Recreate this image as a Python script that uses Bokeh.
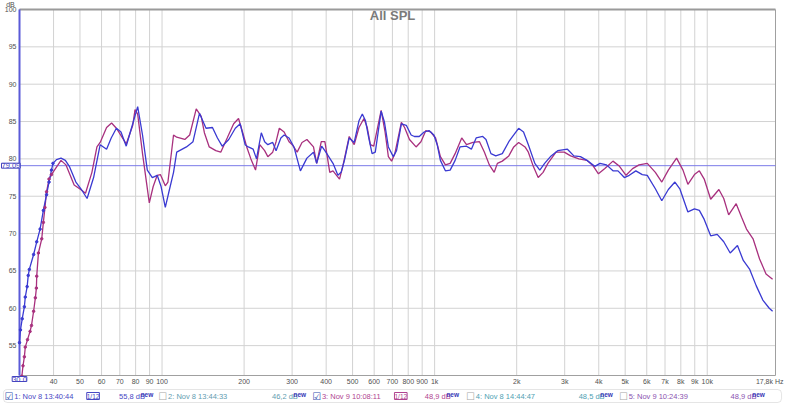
import math
from bokeh.plotting import figure
from bokeh.models import Range1d, Label, BoxAnnotation
from bokeh.layouts import column
from bokeh.embed import file_html
from bokeh.resources import INLINE
from bokeh.core.properties import value

# ---------------- data ----------------
blue_freq = [30.0, 30.25, 30.7, 31.26, 31.5, 32.0, 32.3, 32.6, 33.8, 34.7,
             35.7, 36.7, 37.7, 38.5, 39.3, 39.8, 41.0, 42.6, 44.2, 45.7,
             48.3, 50.4, 53.1, 56.1, 59.3, 62.6, 65.1, 68.0, 70.7, 73.9,
             76.8, 81.4, 84.8, 88.3, 92.1, 96.0, 99.2, 102.8, 106, 110.2,
             113.2, 122.9, 129.9, 137.2, 145, 153.1, 159.7, 166.2, 175.7, 185.7,
             193.6, 201.7, 207.2, 215.9, 222.1, 231.3, 237.9, 244.4, 254.7, 262,
             272.8, 280.5, 292.4, 304.7, 321.8, 340, 359.4, 369.2, 385, 395.7,
             423.8, 441.7, 453.8, 466.8, 486, 506.9, 527.8, 542.9, 557.8, 573.2,
             589.6, 605.7, 636.6, 654.7, 676.5, 705.1, 724.8, 755.1, 787.1, 820,
             842.6, 878, 915, 953.6, 993.8, 1022, 1050, 1095, 1140, 1189,
             1239, 1309, 1364, 1420, 1501, 1543, 1609, 1676, 1771, 1871,
             1951, 2033, 2119, 2207, 2331, 2431, 2532, 2675, 2827, 3070,
             3242, 3426, 3622, 3869, 4041, 4271, 4510, 4704, 4966, 5176,
             5471, 5777, 6026, 6452, 6813, 7200, 7611, 7933, 8492, 8976,
             9356, 9748, 10294, 10877, 11497, 12140, 12909, 13560, 14318, 15131,
             15993, 16887, 17368]
blue_db = [55.4, 57.1, 58.6, 60.2, 61.5, 62.9, 64.4, 65.2, 67.2, 68.9,
           70.6, 73.1, 75.2, 76.9, 78.5, 79.4, 79.9, 80.1, 79.8, 79.0,
           76.9, 76.0, 74.7, 77.5, 81.9, 81.3, 82.8, 84.1, 83.6, 81.7,
           83.8, 87.0, 83.2, 78.5, 77.5, 77.8, 76.3, 73.5, 75.6, 78.2,
           80.9, 81.6, 82.3, 86.1, 84.1, 84.2, 82.8, 81.7, 82.6, 84.1,
           84.7, 81.9, 81.6, 81.3, 80.0, 83.5, 82.3, 81.9, 82.2, 81.1,
           82.8, 83.2, 82.8, 81.6, 78.4, 80.1, 80.9, 79.4, 81.7, 81.1,
           79.4, 77.8, 78.2, 79.8, 82.8, 82.2, 85.1, 86.0, 85.1, 82.8,
           80.7, 80.9, 86.4, 84.9, 81.6, 80.3, 81.1, 84.7, 84.5, 83.2,
           83.0, 83.0, 83.6, 83.8, 83.2, 81.9, 79.8, 78.4, 78.5, 79.8,
           81.6, 81.7, 81.3, 82.8, 83.0, 82.6, 80.7, 80.4, 80.7, 82.3,
           83.2, 84.1, 83.6, 81.9, 79.4, 78.5, 79.4, 80.4, 81.1, 81.3,
           80.4, 80.3, 79.8, 79.0, 79.4, 79.2, 78.4, 78.4, 77.5, 77.8,
           78.4, 77.9, 77.8, 76.0, 74.4, 75.9, 76.9, 76.0, 72.9, 73.3,
           73.1, 71.9, 69.7, 69.9, 68.9, 67.4, 68.4, 66.4, 65.2, 63.0,
           61.1, 60.0, 59.6]

red_freq = [30.6, 30.9, 31.26, 31.5, 32.1, 32.8, 33.2, 33.8, 34.3, 34.6,
            34.7, 35.2, 36.2, 36.7, 37.2, 37.7, 38.5, 39.3, 40.3, 42.6,
            44.4, 47.6, 50.3, 52.4, 55.3, 57.7, 59.3, 62.6, 65.3, 68.0,
            73.9, 78.1, 79.6, 81.4, 84.8, 89.8, 92.8, 96.0, 98.6, 102.8,
            105.1, 110.2, 113.2, 121.2, 126.3, 133.5, 139.2, 143, 149, 157.5,
            164.2, 173.4, 183.1, 190.8, 198.8, 204.5, 211.8, 220.3, 228.3, 237.9,
            244.4, 254.7, 262, 269.3, 280.5, 292.4, 300.4, 313.1, 326.2, 340,
            359.4, 369.2, 383.8, 395.7, 412.4, 423.8, 447.8, 460.3, 486, 506.9,
            527.8, 550.5, 565.9, 581.2, 597.9, 636.6, 657.9, 676.5, 695.3, 714.4,
            755.1, 775.9, 808.5, 854.8, 890.6, 928.4, 967.3, 1008, 1050, 1095,
            1140, 1189, 1257, 1309, 1382, 1461, 1523, 1587, 1654, 1699,
            1771, 1871, 1951, 2033, 2146, 2207, 2301, 2398, 2499, 2603,
            2787, 2987, 3155, 3381, 3622, 3824, 3989, 4211, 4510, 4766,
            5037, 5323, 5621, 6026, 6452, 6813, 7200, 7718, 8148, 8492,
            8976, 9356, 9748, 10294, 11035, 11497, 11984, 12770, 13368, 13932,
            14726, 15560, 16432, 17368]
red_db = [50.9, 52.3, 53.5, 54.8, 55.8, 56.9, 57.7, 59.6, 61.4, 62.7,
          64.3, 67.4, 69.3, 71.5, 73.5, 75.6, 77.3, 77.9, 78.5, 79.8,
          79.2, 76.5, 75.9, 75.4, 78.2, 81.6, 82.2, 84.2, 84.8, 84.1,
          82.0, 84.5, 86.6, 86.0, 80.7, 74.1, 76.3, 77.8, 77.9, 76.4,
          76.9, 83.2, 82.9, 82.6, 83.2, 86.7, 85.7, 83.5, 81.6, 81.1,
          80.9, 82.8, 84.7, 85.4, 83.2, 81.6, 80.0, 78.5, 81.9, 81.1,
          80.3, 80.9, 82.3, 84.1, 83.6, 82.3, 81.9, 80.9, 82.2, 82.6,
          81.6, 79.4, 82.3, 82.3, 78.2, 78.4, 77.3, 79.0, 83.0, 81.9,
          84.2, 85.4, 84.2, 81.9, 81.7, 86.5, 83.6, 80.3, 79.7, 80.7,
          84.9, 84.2, 82.6, 81.6, 82.3, 83.8, 83.6, 82.8, 80.3, 79.2,
          79.4, 80.7, 82.8, 81.9, 82.2, 82.3, 80.9, 79.2, 78.2, 79.4,
          79.7, 80.4, 81.6, 82.2, 81.6, 80.9, 79.0, 77.5, 78.2, 79.4,
          80.9, 80.9, 80.4, 80.0, 79.8, 79.0, 78.0, 78.7, 79.7, 79.0,
          77.8, 78.7, 79.2, 79.4, 78.2, 76.9, 78.5, 80.1, 78.5, 76.6,
          77.9, 78.4, 77.3, 74.6, 75.9, 74.7, 72.5, 74.0, 72.2, 70.6,
          69.3, 66.6, 64.6, 63.9]

f_min, f_max = 30, 17800
db_min, db_max = 51, 100
x_ticks = [40, 50, 60, 70, 80, 90, 100, 200, 300, 400, 500, 600, 700, 800, 900,
           1000, 2000, 3000, 4000, 5000, 6000, 7000, 8000, 9000, 10000]
x_tick_labels = ["40", "50", "60", "70", "80", "90", "100", "200", "300", "400",
                 "500", "600", "700", "800", "900", "1k", "2k", "3k", "4k", "5k",
                 "6k", "7k", "8k", "9k", "10k"]
y_ticks = [55, 60, 65, 70, 75, 80, 85, 90, 95, 100]
y_tick_labels = ["55", "60", "65", "70", "75", "80", "85", "90", "95", "100"]
x_start_label = "30.0"
x_end_label = "17,8k Hz"
y_unit_label = "dB"
cursor_db = 79.09
title_text = "All SPL"

legend_names = ["1: Nov 8 13:40:44", "2: Nov 8 13:44:33", "3: Nov 9 10:08:11",
                "4: Nov 8 14:44:47", "5: Nov 9 10:24:39"]
legend_levels = ["55,8 dB", "46,2 dB", "48,9 dB", "48,5 dB", "48,9 dB"]
legend_checked = [True, False, True, False, False]
legend_smoothing = ["1/12", None, "1/12", None, None]

# ---------------- layout / styling ----------------
FONT = "Liberation Sans"
BLUE = "#3a3ad2"
RED = "#a8307e"
GRID = "#d2d2d2"
FRAME = "#a0a0a0"
TXT = "#505050"
CUR = "#4444c0"
legend_colors = ["#4848c4", "#5f9db0", "#b04490", "#4f9fb3", "#8a52b0"]
item_x = [4, 161, 318, 475, 631]
level_x = [121, 277, 433, 590, 745]
smooth_x = [88, None, 402, None, None]

W, H = 784, 388
PAD_L, PAD_R, PAD_T, PAD_B = 19, 9, 9, 13
PX_DEC = (W - PAD_L - PAD_R) / math.log10(f_max / f_min)
PX_DB = (H - PAD_T - PAD_B) / (db_max - db_min)


def fx(f, dpx):
    """frequency shifted by dpx screen pixels (for placing texts)"""
    return f * 10 ** (dpx / PX_DEC)


def fy(db, dpx):
    """level shifted by dpx screen pixels upwards"""
    return db + dpx / PX_DB


p = figure(width=W, height=H, x_axis_type="log",
           x_range=Range1d(fx(f_min, -PAD_L), fx(f_max, PAD_R)),
           y_range=Range1d(fy(db_min, -PAD_B), fy(db_max, PAD_T)),
           output_backend="svg", toolbar_location=None, min_border=0,
           x_axis_location=None, y_axis_location=None)
p.grid.visible = False
p.outline_line_color = None
p.background_fill_color = "white"
p.border_fill_color = "white"

# grid
p.segment(x0=x_ticks, y0=[db_min] * len(x_ticks), x1=x_ticks, y1=[db_max] * len(x_ticks),
          line_color=GRID, line_width=1)
p.segment(x0=[f_min] * len(y_ticks[:-1]), y0=y_ticks[:-1], x1=[f_max] * len(y_ticks[:-1]),
          y1=y_ticks[:-1], line_color=GRID, line_width=1)
# frame
p.segment(x0=[f_min, f_max, f_min], y0=[db_min, db_min, db_min],
          x1=[f_max, f_max, f_min], y1=[db_min, db_max, db_max],
          line_color=FRAME, line_width=1)
p.segment(x0=[f_min], y0=[db_max], x1=[f_max], y1=[db_max], line_color="#9a9a9a", line_width=2)
p.segment(x0=[f_min], y0=[db_min], x1=[f_min], y1=[db_max], line_color="#5a5ad8", line_width=2)

# cursor level line
p.segment(x0=[f_min], y0=[cursor_db], x1=[f_max], y1=[cursor_db], line_color="#7b7be8", line_width=1)

# curves
p.line(red_freq, red_db, line_color=RED, line_width=1.3)
p.line(blue_freq, blue_db, line_color=BLUE, line_width=1.3)
p.scatter(red_freq[:18], red_db[:18], size=2.5, color=RED)
p.scatter(blue_freq[:16], blue_db[:16], size=2.5, color=BLUE)

# tick labels
p.text(x=x_ticks, y=[fy(db_min, -6)] * len(x_ticks), text=x_tick_labels,
       text_font=value(FONT), text_font_size="7px", text_color=TXT,
       text_align="center", text_baseline="middle")
p.text(x=[fx(f_min, -3)] * len(y_ticks), y=y_ticks, text=y_tick_labels,
       text_font=value(FONT), text_font_size="7px", text_color=TXT,
       text_align="right", text_baseline="middle")

p.add_layout(Label(x=fx(f_min, -9), y=fy(db_max, 5), text=y_unit_label,
                   text_font=FONT, text_font_size="7px", text_color=TXT,
                   text_baseline="middle", text_align="center"))
p.add_layout(Label(x=f_min, y=fy(db_min, -1), text=x_start_label,
                   text_font=FONT, text_font_size="7.5px", text_color=CUR,
                   text_baseline="top", text_align="center",
                   border_line_color=CUR, background_fill_color="white"))
p.add_layout(Label(x=fx(f_max, 8), y=fy(db_min, -6), text=x_end_label,
                   text_font=FONT, text_font_size="7px", text_color=TXT,
                   text_baseline="middle", text_align="right"))
p.add_layout(Label(x=fx(f_min, -18), y=cursor_db, text=f"{cursor_db:.2f}",
                   text_font=FONT, text_font_size="7.5px", text_color=CUR,
                   text_baseline="middle", text_align="left",
                   border_line_color=CUR, background_fill_color="white"))
p.add_layout(Label(x=fx(f_min, 373), y=fy(db_max, -6), text=title_text,
                   text_font=FONT, text_font_size="13px", text_font_style="bold",
                   text_color="#7a7a7a", text_baseline="middle", text_align="center"))

# ---------------- legend bar ----------------
lg = figure(width=W, height=15, x_range=Range1d(0, 800), y_range=Range1d(0, 15),
            output_backend="svg", toolbar_location=None, min_border=0,
            x_axis_location=None, y_axis_location=None)
lg.grid.visible = False
lg.outline_line_color = None
lg.background_fill_color = "white"
lg.border_fill_color = "white"
lg.add_layout(BoxAnnotation(left=3, right=797, bottom=1, top=14, fill_alpha=0,
                            line_color="#a8a8a8", line_width=1, border_radius=4))

for i in range(len(legend_names)):
    col = legend_colors[i]
    box = "\u2611" if legend_checked[i] else "\u2610"
    lg.add_layout(Label(x=item_x[i], y=7.5, text=box, text_font="DejaVu Sans",
                        text_font_size="10px", text_baseline="middle",
                        text_color="#2f4fb0" if legend_checked[i] else "#a8a8a8"))
    lg.add_layout(Label(x=item_x[i] + 10, y=7.5, text=legend_names[i], text_font=FONT,
                        text_font_size="7.5px", text_baseline="middle", text_color=col))
    lg.add_layout(Label(x=level_x[i], y=7.5, text=legend_levels[i], text_font=FONT,
                        text_font_size="7.5px", text_baseline="middle", text_color=col))
    lg.add_layout(Label(x=level_x[i] + 22, y=9, text="new", text_font=FONT,
                        text_font_size="6.5px", text_font_style="bold",
                        text_baseline="middle", text_color="#3838b8"))
    if legend_smoothing[i]:
        lg.add_layout(Label(x=smooth_x[i], y=7.5, text=legend_smoothing[i], text_font=FONT,
                            text_font_size="6.5px", text_baseline="middle", text_color=col,
                            border_line_color=col, background_fill_color="white"))

layout = column(p, lg)
open("out.html", "w").write(file_html(layout, INLINE))
